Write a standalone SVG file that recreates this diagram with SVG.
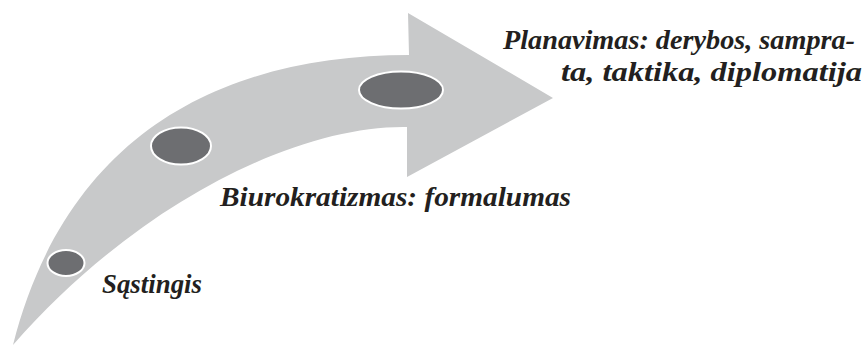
<svg xmlns="http://www.w3.org/2000/svg" width="868" height="346" viewBox="0 0 868 346">
<style>
.arrow{fill:#c8c9ca;stroke:none}
.dot{fill:#6d6e71;stroke:#ffffff;stroke-width:2}
.lbl{font-family:"Liberation Serif","Times New Roman",serif;font-style:italic;font-weight:bold;fill:#231f20;font-size:28px}
</style>
<g id="arrow">
<path class="arrow" d="M13,345 C68,128 230,55 409,55 L408,13 L553,98 L407,177 L407,127 C300,125 140,200 13,345 Z"/>
</g>
<g id="connectors"></g>
<g id="node-sastingis">
<ellipse class="dot" cx="66" cy="263" rx="18.5" ry="13"/>
<text class="lbl" x="102" y="293" textLength="100" lengthAdjust="spacingAndGlyphs">Sąstingis</text>
</g>
<g id="node-biurokratizmas">
<ellipse class="dot" cx="181" cy="146" rx="30" ry="18.5"/>
<text class="lbl" x="220" y="206" textLength="351" lengthAdjust="spacingAndGlyphs">Biurokratizmas: formalumas</text>
</g>
<g id="node-planavimas">
<ellipse class="dot" cx="401" cy="90" rx="42" ry="18.5"/>
<text class="lbl" x="503" y="49" textLength="352" lengthAdjust="spacingAndGlyphs">Planavimas: derybos, sampra-</text>
<text class="lbl" x="561" y="81" textLength="301" lengthAdjust="spacingAndGlyphs">ta, taktika, diplomatija</text>
</g>
</svg>
